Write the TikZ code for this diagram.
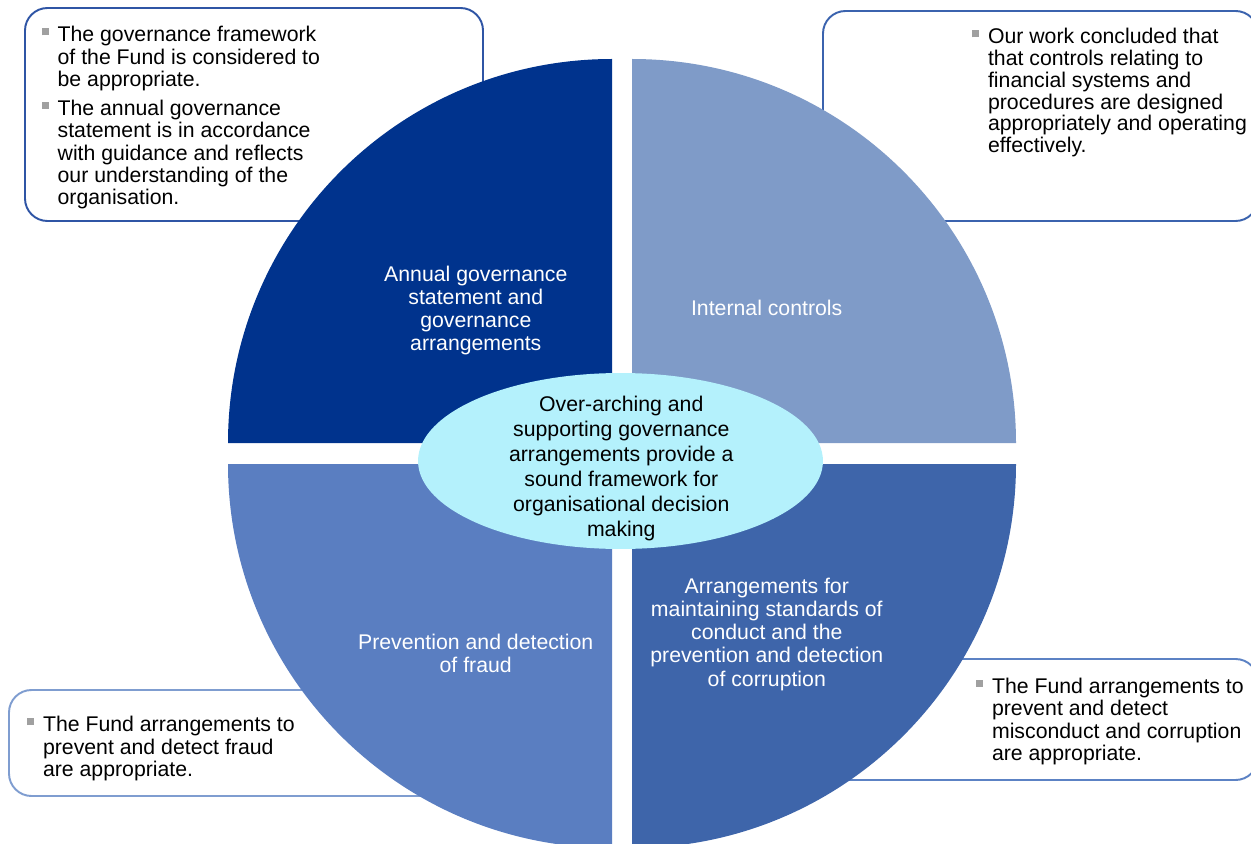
\documentclass[tikz,border=0pt]{standalone}
\usepackage{fontspec}
\setmainfont{Liberation Sans}
\usepackage{xcolor}
\usepackage{tikz}
\usetikzlibrary{shapes.geometric, positioning}
\definecolor{govnavy}{HTML}{00338D}
\definecolor{ctrlpale}{HTML}{7F9BC8}
\definecolor{fraudmid}{HTML}{5A7EC1}
\definecolor{conductdeep}{HTML}{3E65AA}
\definecolor{hubcyan}{HTML}{B4F1FC}
\definecolor{govline}{HTML}{2F55A5}
\definecolor{ctrlline}{HTML}{3B63AE}
\definecolor{fraudline}{HTML}{7F9DD0}
\definecolor{conductline}{HTML}{5C82C4}
\definecolor{bulletgrey}{HTML}{A0A0A0}

\newcommand{\sqbullet}{\leavevmode\llap{\textcolor{bulletgrey}{\rule[3.7pt]{4pt}{4pt}}\hspace{5.1pt}}}

\tikzset{
  callout/.style={draw=#1, line width=1.1pt, rounded corners=0.45cm, fill=white},
  calltext/.style={anchor=base west, align=left, inner sep=0pt, font=\fontsize{12.1}{12.8}\selectfont},
  quadtext/.style={anchor=base, align=center, inner sep=0pt, text=white, font=\fontsize{12.1}{13.1}\selectfont},
  hub/.style={ellipse, fill=hubcyan, minimum width=8.1cm, minimum height=3.52cm, inner sep=0pt},
  hubtext/.style={anchor=base, align=center, inner sep=0pt, font=\fontsize{12.1}{14.3}\selectfont}
}

\begin{document}
\begin{tikzpicture}[x=0.02cm, y=0.02cm]
    \useasboundingbox (0,0) rectangle (1251,843);
    % Callout boxes behind the circle
    \draw[callout=govline] (25,835) rectangle (483,622);
    \draw[callout=ctrlline] (823,832) rectangle (1258,622);
    \draw[callout=fraudline] (9,153) rectangle (480,47);
    \draw[callout=conductline] (790,184) rectangle (1258,63);
    % Four quadrants of the circle
    \fill[govnavy] (612,400) -- (228,400) arc[start angle=180, end angle=90, radius=384] -- cycle;
    \fill[ctrlpale] (632,400) -- (632,784) arc[start angle=90, end angle=0, radius=384] -- cycle;
    \fill[fraudmid] (612,379) -- (228,379) arc[start angle=180, end angle=270, radius=384] -- cycle;
    \fill[conductdeep] (632,379) -- (1016,379) arc[start angle=0, end angle=-90, radius=384] -- cycle;
    % Centre ellipse (text placed by its last line)
    \node[hub] (hub) at (620.5,382) {};
    \node[hubtext] (hubtext) at (621.3,306.3) {Over-arching and\\supporting governance\\arrangements provide a\\sound framework for\\organisational decision\\making};
    % Quadrant labels
    \node[quadtext] (govlabel) at (475.8,492.7) {Annual governance\\statement and\\governance\\arrangements};
    \node[quadtext] (ctrllabel) at (766.7,527) {Internal controls};
    \node[quadtext] (fraudlabel) at (475.7,170.9) {Prevention and detection\\of fraud};
    \node[quadtext] (conductlabel) at (766.8,157) {Arrangements for\\maintaining standards of\\conduct and the\\prevention and detection\\of corruption};
    % Callout texts
    \node[calltext] (govnote) at (57.3,638) {\sqbullet The governance framework\\of the Fund is considered to\\be appropriate.\\[3.2pt]\sqbullet The annual governance\\statement is in accordance\\with guidance and reflects\\our understanding of the\\organisation.};
    \node[calltext, font=\fontsize{12.1}{12.4}\selectfont] (ctrlnote) at (987.7,690.3) {\sqbullet Our work concluded that\\that controls relating to\\financial systems and\\procedures are designed\\appropriately and operating\\effectively.};
    \node[calltext] (fraudnote) at (42.7,66.3) {\sqbullet The Fund arrangements to\\prevent and detect fraud\\are appropriate.};
    \node[calltext] (conductnote) at (991.7,82.3) {\sqbullet The Fund arrangements to\\prevent and detect\\misconduct and corruption\\are appropriate.};
\end{tikzpicture}
\end{document}
